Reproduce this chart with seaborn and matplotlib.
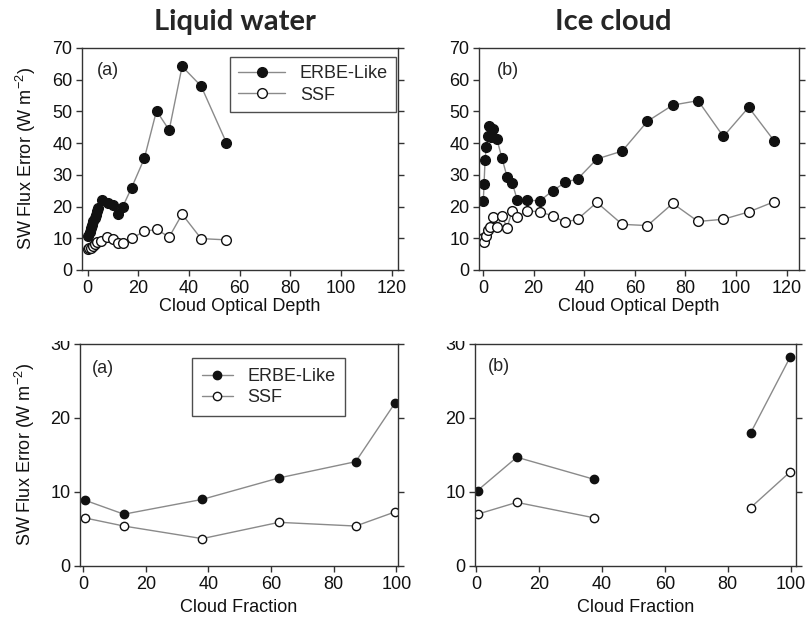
import numpy as np
import matplotlib
matplotlib.use("Agg")
import matplotlib.pyplot as plt
import seaborn as sns
from matplotlib.lines import Line2D
from matplotlib.patches import Rectangle

sns.set_theme(style="ticks")
plt.rcParams["font.family"] = ["Liberation Sans", "DejaVu Sans"]
plt.rcParams["mathtext.fontset"] = "custom"
plt.rcParams["mathtext.rm"] = "Liberation Sans"
plt.rcParams["mathtext.it"] = "Liberation Sans:italic"
plt.rcParams["mathtext.default"] = "regular"

# ---- Liquid water: error vs cloud optical depth ----
liq_tau_erbe = [0.3, 0.8, 1.3, 1.8, 2.3, 2.8, 3.3, 3.8, 4.3, 5.6, 8.2, 10.2, 12.1, 13.9,
                17.4, 22.4, 27.2, 32.2, 37.3, 44.8, 54.8]
liq_err_erbe = [10.6, 12.0, 13.2, 14.3, 15.4, 16.4, 17.4, 18.5, 19.4, 22.1, 21.0, 20.6, 17.7, 20.0,
                26.0, 35.2, 50.2, 44.1, 64.2, 58.0, 40.1]
liq_tau_ssf = [0.2, 0.7, 1.3, 2.0, 2.8, 3.8, 5.3, 7.8, 9.9, 11.9, 13.9, 17.4, 22.4, 27.2,
               32.2, 37.3, 44.8, 54.8]
liq_err_ssf = [6.6, 6.8, 7.0, 7.5, 8.2, 8.8, 9.3, 10.3, 9.7, 8.6, 8.4, 10.0, 12.2, 12.8,
               10.4, 17.6, 9.9, 9.5]

# ---- Ice cloud: error vs cloud optical depth ----
ice_tau_erbe = [0.1, 0.4, 0.8, 1.3, 1.8, 2.5, 3.3, 4.0, 5.5, 7.5, 9.5, 11.5, 13.5, 17.5,
                22.5, 27.5, 32.5, 37.5, 45, 55, 65, 75, 85, 95, 105, 115]
ice_err_erbe = [21.8, 27.2, 34.8, 38.9, 42.2, 45.3, 42.0, 44.6, 41.2, 35.2, 29.4, 27.5, 22.2, 22.0,
                21.8, 25.0, 27.6, 28.8, 35.0, 37.5, 46.9, 52.0, 53.4, 42.1, 51.3, 40.8]
ice_tau_ssf = [0.0, 0.5, 1.3, 2.0, 2.8, 3.8, 5.5, 7.5, 9.5, 11.5, 13.5, 17.5, 22.5, 27.5,
               32.5, 37.5, 45, 55, 65, 75, 85, 95, 105, 115]
ice_err_ssf = [10.2, 8.7, 10.8, 12.5, 13.5, 16.6, 13.7, 17.0, 13.3, 18.7, 16.7, 18.7, 18.3, 17.1,
               15.0, 16.1, 21.3, 14.4, 14.0, 21.0, 15.3, 16.0, 18.3, 21.5]

# ---- Error vs cloud fraction (NaN = no sample in that bin) ----
frac_liq = [0.5, 13.0, 38.0, 62.5, 87.0, 99.5]
liq_frac_erbe = [8.9, 7.0, 9.0, 11.9, 14.1, 22.0]
liq_frac_ssf = [6.5, 5.4, 3.7, 5.9, 5.4, 7.3]

frac_ice = [0.4, 12.9, 37.6, 62.5, 87.3, 99.8]
ice_frac_erbe = [10.2, 14.7, 11.7, np.nan, 18.0, 28.2]
ice_frac_ssf = [7.0, 8.6, 6.5, np.nan, 7.9, 12.7]

series_names = ["ERBE-Like", "SSF"]
ylabel = "SW Flux Error (W m$^{-2}$)"

LINE = "#8a8a8a"
EDGE = "#111111"
FS = 13

W, H = 809, 625
fig = plt.figure(figsize=(W / 100, H / 100), dpi=100)


def axes_px(left, right, top, bottom):
    return fig.add_axes([left / W, 1 - bottom / H, (right - left) / W, (bottom - top) / H])


ax_tl = axes_px(82, 398, 48, 270)
ax_tr = axes_px(479, 799, 48, 270)
ax_bl = axes_px(80, 398, 344, 566)
ax_br = axes_px(475, 796, 344, 566)


def draw(ax, x, y, filled, ms):
    x = np.asarray(x, float)
    y = np.asarray(y, float)
    ok = ~np.isnan(y)
    # split into contiguous runs so missing bins leave a gap
    runs, cur = [], []
    for i in range(len(x)):
        if ok[i]:
            cur.append(i)
        elif cur:
            runs.append(cur)
            cur = []
    if cur:
        runs.append(cur)
    for r in runs:
        sns.lineplot(x=x[r], y=y[r], ax=ax, color=LINE, linewidth=1.0, marker="o",
                     markersize=ms, markerfacecolor=EDGE if filled else "white",
                     markeredgecolor=EDGE, markeredgewidth=1.0,
                     estimator=None, sort=False, legend=False)


draw(ax_tl, liq_tau_erbe, liq_err_erbe, True, 7)
draw(ax_tl, liq_tau_ssf, liq_err_ssf, False, 7)
draw(ax_tr, ice_tau_erbe, ice_err_erbe, True, 7)
draw(ax_tr, ice_tau_ssf, ice_err_ssf, False, 7)
draw(ax_bl, frac_liq, liq_frac_erbe, True, 6)
draw(ax_bl, frac_liq, liq_frac_ssf, False, 6)
draw(ax_br, frac_ice, ice_frac_erbe, True, 6)
draw(ax_br, frac_ice, ice_frac_ssf, False, 6)

for ax in (ax_tl, ax_tr):
    ax.set_ylim(0, 70)
    ax.set_yticks(np.arange(0, 71, 10))
    ax.set_xticks(np.arange(0, 121, 20))
    ax.set_xlabel("Cloud Optical Depth", fontsize=FS)
ax_tl.set_xlim(-2.2, 122.5)
ax_tr.set_xlim(-1.6, 124.9)

for ax in (ax_bl, ax_br):
    ax.set_ylim(0, 30)
    ax.set_yticks([0, 10, 20, 30])
    ax.set_xticks(np.arange(0, 101, 20))
    ax.set_xlabel("Cloud Fraction", fontsize=FS)
ax_bl.set_xlim(-1.0, 100.5)
ax_br.set_xlim(-0.4, 101.7)

for ax in (ax_tl, ax_tr, ax_bl, ax_br):
    ax.set_ylabel("")
    for s in ax.spines.values():
        s.set_visible(True)
        s.set_color("#333333")
        s.set_linewidth(1.0)
    ax.tick_params(axis="both", direction="out", length=4, width=1.0, color="#333333",
                   labelsize=FS, labelcolor="#111111", right=True, pad=3)
    ax.xaxis.label.set_color("#111111")
    ax.set_facecolor("white")

for ax in (ax_tl, ax_bl):
    ax.set_ylabel(ylabel, fontsize=FS, color="#111111")
ax_tl.yaxis.set_label_coords(-0.14, 0.5)
ax_bl.yaxis.set_label_coords(-0.136, 0.5)
for ax in (ax_tl, ax_tr):
    ax.xaxis.set_label_coords(0.5, -0.165)
for ax in (ax_bl, ax_br):
    ax.xaxis.set_label_coords(0.5, -0.185)
for ax in (ax_tl, ax_tr, ax_bl, ax_br):
    ax.xaxis.label.set_va("center")

ax_tl.text(0.047, 0.935, "(a)", transform=ax_tl.transAxes, fontsize=FS, va="top", ha="left")
ax_tr.text(0.056, 0.935, "(b)", transform=ax_tr.transAxes, fontsize=FS, va="top", ha="left")
ax_bl.text(0.038, 0.93, "(a)", transform=ax_bl.transAxes, fontsize=FS, va="top", ha="left")
ax_br.text(0.04, 0.935, "(b)", transform=ax_br.transAxes, fontsize=FS, va="top", ha="left")


def handles(ms):
    return [Line2D([], [], color=LINE, lw=1.0, marker="o", ms=ms, mfc=EDGE, mec=EDGE, mew=1.0),
            Line2D([], [], color=LINE, lw=1.0, marker="o", ms=ms, mfc="white", mec=EDGE, mew=1.0)]


for ax, anchor, loc, ms, hl, bp in ((ax_tl, (0.994, 0.959), "upper right", 7, 2.6, 0.45),
                                    (ax_bl, (0.352, 0.937), "upper left", 6, 1.7, 0.55)):
    leg = ax.legend(handles(ms), series_names, loc=loc, bbox_to_anchor=anchor, fontsize=FS,
                    frameon=True, fancybox=False, edgecolor="#222222", handlelength=hl,
                    borderpad=bp, labelspacing=0.25, handletextpad=0.8, borderaxespad=0)
    leg.get_frame().set_linewidth(1.0)

fig.text(235 / W, 1 - 22 / H, "Liquid water", fontsize=21, fontweight="bold",
         family="Lato", ha="center", va="center")
fig.text(613 / W, 1 - 22 / H, "Ice cloud", fontsize=21, fontweight="bold",
         family="Lato", ha="center", va="center")

# the lower row's top tick label sits partly under the upper row's margin
for x0 in (20, 420):
    fig.patches.append(Rectangle((x0 / W, 1 - 341 / H), 58 / W, 14 / H, transform=fig.transFigure,
                                 facecolor="white", edgecolor="none", zorder=10))

fig.savefig("out.png", dpi=100, facecolor="white")
